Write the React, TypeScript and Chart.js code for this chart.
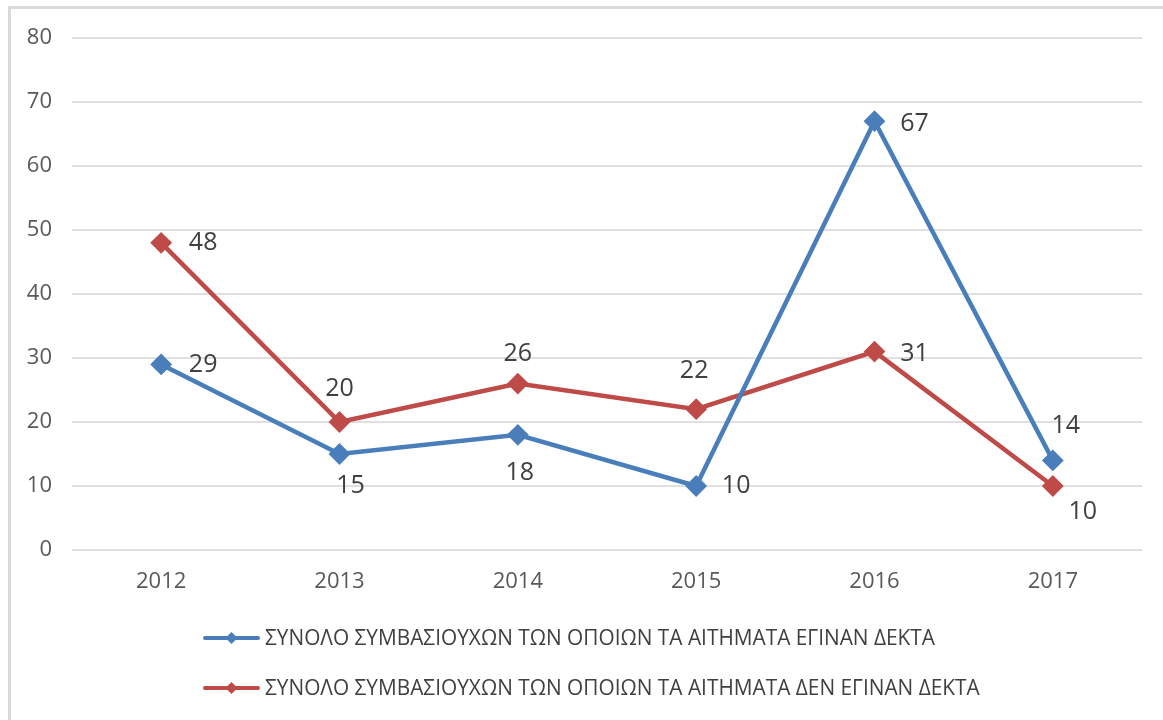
import React, { useEffect, useRef } from "react";
import { Chart, registerables } from "chart.js";

Chart.register(...registerables);

const categories = ["2012", "2013", "2014", "2015", "2016", "2017"];
const acceptedLabel = "ΣΥΝΟΛΟ ΣΥΜΒΑΣΙΟΥΧΩΝ ΤΩΝ ΟΠΟΙΩΝ ΤΑ ΑΙΤΗΜΑΤΑ ΕΓΙΝΑΝ ΔΕΚΤΑ";
const rejectedLabel = "ΣΥΝΟΛΟ ΣΥΜΒΑΣΙΟΥΧΩΝ ΤΩΝ ΟΠΟΙΩΝ ΤΑ ΑΙΤΗΜΑΤΑ ΔΕΝ ΕΓΙΝΑΝ ΔΕΚΤΑ";
const acceptedValues = [29, 15, 18, 10, 67, 14];
const rejectedValues = [48, 20, 26, 22, 31, 10];
const yTicks = [0, 10, 20, 30, 40, 50, 60, 70, 80];

// label placement offsets (dx, dy) relative to each point
const acceptedLabelOffsets = [[42, 0], [11, 32], [2, 38], [40, 0], [40, 3], [13, -35]];
const rejectedLabelOffsets = [[42, 0], [0, -33], [0, -30], [-2, -38], [40, 2], [30, 26]];

const BLUE = "#4a7ebb";
const RED = "#be4b48";
const FONT = "'Open Sans', 'Liberation Sans', sans-serif";

const labelPlugin = {
  id: "valueLabels",
  afterDatasetsDraw(chart: any) {
    const ctx = chart.ctx;
    const offsets = [acceptedLabelOffsets, rejectedLabelOffsets];
    ctx.save();
    ctx.font = `25px ${FONT}`;
    ctx.fillStyle = "#404040";
    ctx.textAlign = "center";
    ctx.textBaseline = "middle";
    chart.data.datasets.forEach((ds: any, di: number) => {
      const meta = chart.getDatasetMeta(di);
      meta.data.forEach((pt: any, i: number) => {
        const [dx, dy] = offsets[di][i];
        ctx.fillText(String(ds.data[i]), pt.x + dx, pt.y + dy);
      });
    });
    ctx.restore();
  },
};

const legendPlugin = {
  id: "customLegend",
  afterDraw(chart: any) {
    const ctx = chart.ctx;
    const rows = [638, 688];
    const lineStart = 205;
    const lineEnd = 258;
    const textX = 265;
    ctx.save();
    ctx.font = `22px ${FONT}`;
    const natural = ctx.measureText(chart.data.datasets[0].label).width;
    const s = 670 / natural;
    chart.data.datasets.forEach((ds: any, di: number) => {
      const y = rows[di];
      ctx.strokeStyle = ds.borderColor;
      ctx.lineWidth = 4;
      ctx.lineCap = "round";
      ctx.beginPath();
      ctx.moveTo(lineStart, y);
      ctx.lineTo(lineEnd, y);
      ctx.stroke();
      const cx = (lineStart + lineEnd) / 2;
      ctx.fillStyle = ds.borderColor;
      ctx.beginPath();
      ctx.moveTo(cx, y - 6);
      ctx.lineTo(cx + 6, y);
      ctx.lineTo(cx, y + 6);
      ctx.lineTo(cx - 6, y);
      ctx.closePath();
      ctx.fill();
      ctx.save();
      ctx.translate(textX, y);
      ctx.scale(s, 1);
      ctx.fillStyle = "#404040";
      ctx.textAlign = "left";
      ctx.textBaseline = "middle";
      ctx.fillText(ds.label, 0, 1);
      ctx.restore();
    });
    ctx.restore();
  },
};

export default function App() {
  const canvasRef = useRef<HTMLCanvasElement | null>(null);

  useEffect(() => {
    document.body.style.margin = "0";
    const canvas = canvasRef.current;
    if (!canvas) return;
    const chart = new Chart(canvas, {
      type: "line",
      data: {
        labels: categories,
        datasets: [
          {
            label: acceptedLabel,
            data: acceptedValues,
            borderColor: BLUE,
            backgroundColor: BLUE,
            borderWidth: 4.5,
            pointStyle: "rectRot",
            pointRadius: 9.5,
            pointBorderWidth: 2,
            pointBackgroundColor: BLUE,
            pointBorderColor: BLUE,
            tension: 0,
          },
          {
            label: rejectedLabel,
            data: rejectedValues,
            borderColor: RED,
            backgroundColor: RED,
            borderWidth: 4.5,
            pointStyle: "rectRot",
            pointRadius: 9.5,
            pointBorderWidth: 2,
            pointBackgroundColor: RED,
            pointBorderColor: RED,
            tension: 0,
          },
        ],
      },
      options: {
        responsive: false,
        animation: false,
        devicePixelRatio: 1,
        layout: { padding: { top: 38, right: 21, left: 0, bottom: 0 } },
        plugins: {
          legend: { display: false },
          tooltip: { enabled: false },
          title: { display: false },
        },
        scales: {
          x: {
            offset: true,
            grid: { display: false, drawTicks: false },
            border: { display: false },
            ticks: {
              color: "#595959",
              font: { family: FONT, size: 22 },
              padding: 19,
              maxRotation: 0,
            },
            afterFit(scale: any) {
              scale.height = 170;
            },
          },
          y: {
            min: 0,
            max: 80,
            afterBuildTicks(scale: any) {
              scale.ticks = yTicks.map((v) => ({ value: v }));
            },
            grid: { color: "#e0e0e0", lineWidth: 2, drawTicks: false },
            border: { display: false },
            ticks: {
              color: "#595959",
              font: { family: FONT, size: 22 },
              padding: 20,
            },
            afterFit(scale: any) {
              scale.width = 72;
            },
          },
        },
      },
      plugins: [labelPlugin, legendPlugin],
    });
    return () => chart.destroy();
  }, []);

  return (
    <div style={{ position: "relative", width: 1163, height: 720, background: "#fff", overflow: "hidden" }}>
      <div
        style={{
          position: "absolute",
          left: 8,
          top: 6,
          right: -10,
          bottom: -10,
          borderLeft: "3px solid #dadada",
          borderTop: "3px solid #dadada",
        }}
      />
      <canvas ref={canvasRef} width={1163} height={720} style={{ position: "absolute", left: 0, top: 0, display: "block" }} />
    </div>
  );
}
